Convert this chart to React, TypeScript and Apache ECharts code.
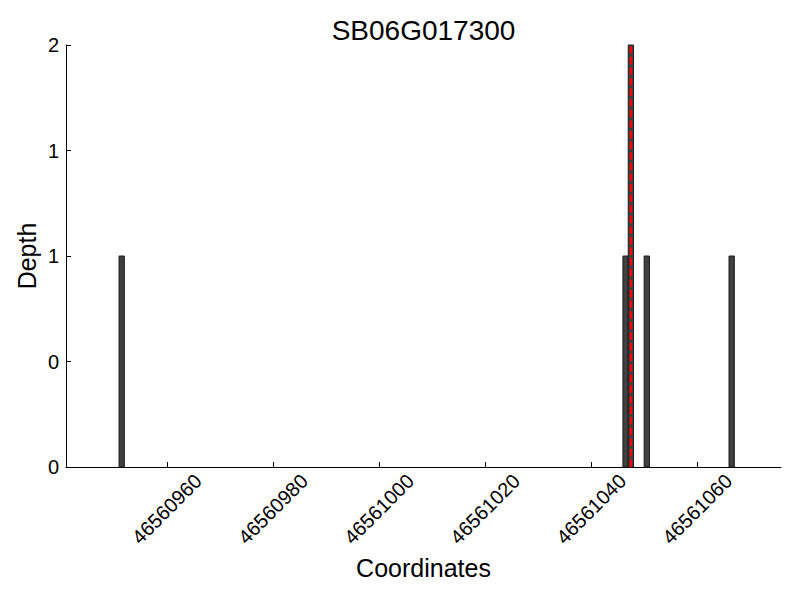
import React, { useEffect, useRef } from "react";
import * as echarts from "echarts";

const title = "SB06G017300";
const xName = "Coordinates";
const yName = "Depth";
const binStarts = [46560951, 46561046, 46561047, 46561050, 46561066];
const depths = [1, 1, 2, 1, 1];
const snpPosition = 46561047.5;
const xTicks = [46560960, 46560980, 46561000, 46561020, 46561040, 46561060];
const yTicks = [0, 0.5, 1, 1.5, 2];
const xMin = 46560941;
const xMax = 46561075.8;

const FONT = "Liberation Sans, Arial, Helvetica, sans-serif";

export default function App() {
  const ref = useRef<HTMLDivElement>(null);
  useEffect(() => {
    if (!ref.current) return;
    const chart = echarts.init(ref.current, null, { renderer: "svg" });
    const barData = binStarts.map((s, i) => [s, s + 1, depths[i]]);
    chart.setOption({
      animation: false,
      backgroundColor: "#fff",
      textStyle: { fontFamily: FONT },
      grid: { left: 66, right: 19, top: 45, bottom: 133, containLabel: false },
      xAxis: {
        type: "value",
        min: xMin,
        max: xMax,
        splitLine: { show: false },
        axisLine: { show: true, onZero: false, lineStyle: { color: "#000", width: 1 } },
        axisTick: { show: true, inside: true, length: 5, customValues: xTicks, lineStyle: { color: "#000" } },
        axisLabel: {
          customValues: xTicks,
          rotate: 45,
          align: "center",
          verticalAlign: "middle",
          margin: 42,
          fontSize: 20,
          color: "#000",
          fontFamily: FONT,
          formatter: (v: number) => String(Math.round(v)),
        },
      },
      yAxis: {
        type: "value",
        min: 0,
        max: 2,
        interval: 0.5,
        splitLine: { show: false },
        axisLine: { show: true, lineStyle: { color: "#000", width: 1 } },
        axisTick: { show: true, inside: true, length: 5, lineStyle: { color: "#000" } },
        axisLabel: {
          margin: 7,
          fontSize: 20,
          color: "#000",
          fontFamily: FONT,
          formatter: (v: number) => String(Math.floor(v)),
          customValues: yTicks,
        },
      },
      graphic: [
        {
          type: "text",
          x: 423.5,
          y: 30,
          style: { text: title, fontSize: 28, fontFamily: FONT, fill: "#000", textAlign: "center", textVerticalAlign: "middle" },
        },
        {
          type: "text",
          x: 423.5,
          y: 568,
          style: { text: xName, fontSize: 25, fontFamily: FONT, fill: "#000", textAlign: "center", textVerticalAlign: "middle" },
        },
        {
          type: "text",
          x: 27,
          y: 256,
          rotation: Math.PI / 2,
          style: { text: yName, fontSize: 25, fontFamily: FONT, fill: "#000", textAlign: "center", textVerticalAlign: "middle" },
        },
      ],
      series: [
        {
          type: "custom",
          data: barData,
          encode: { x: [0, 1], y: 2 },
          renderItem: (params: any, api: any) => {
            const p0 = api.coord([api.value(0), api.value(2)]);
            const p1 = api.coord([api.value(1), 0]);
            return {
              type: "rect",
              shape: { x: p0[0], y: p0[1], width: p1[0] - p0[0], height: p1[1] - p0[1] },
              style: { fill: "#404040", stroke: "#1a1a1a", lineWidth: 1 },
            };
          },
          z: 2,
        },
        {
          type: "line",
          data: [[snpPosition, 0], [snpPosition, 2]],
          symbol: "none",
          lineStyle: { color: "#ff0000", width: 2.5, type: [7.4, 3.2] },
          z: 3,
        },
      ],
    });
    return () => chart.dispose();
  }, []);
  return <div ref={ref} style={{ width: 800, height: 600, margin: -8 }} />;
}
